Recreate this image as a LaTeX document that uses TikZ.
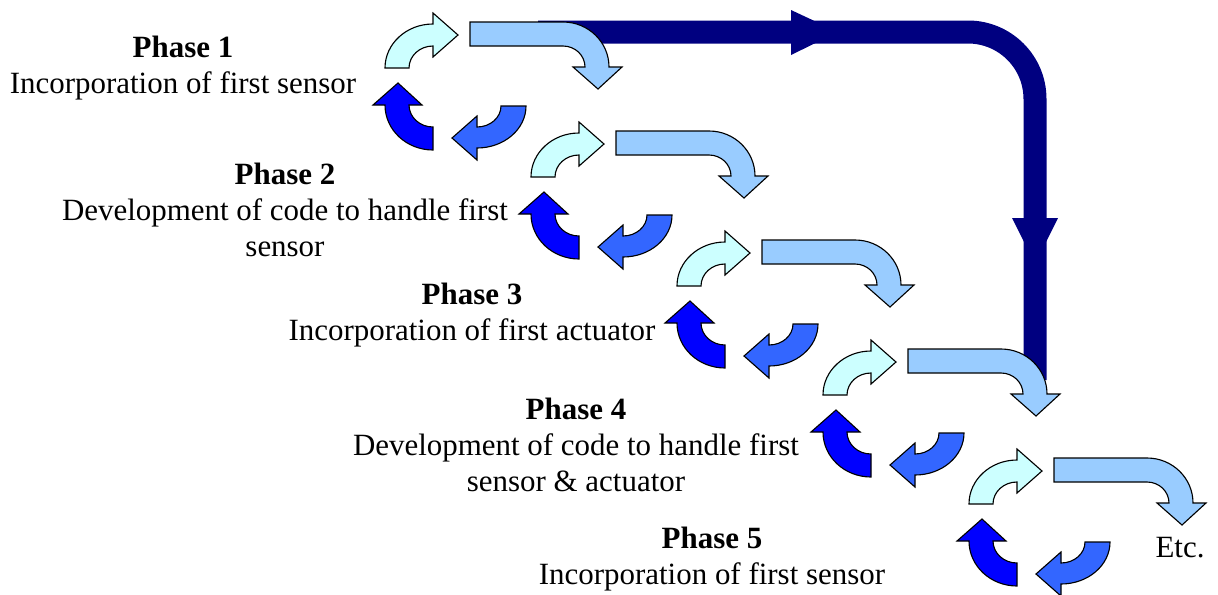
\documentclass[tikz,border=0pt]{standalone}
\usepackage{fontspec}
\setmainfont{Liberation Serif}
\usetikzlibrary{positioning}
\definecolor{palecyan}{HTML}{CCFFFF}
\definecolor{skyblue}{HTML}{99CCFF}
\definecolor{midblue}{HTML}{3366FF}
\definecolor{pureblue}{HTML}{0000FF}
\definecolor{navyblue}{HTML}{000080}
\tikzstyle{rise} = [draw=black, line width=0.8pt, line join=miter, fill=palecyan]
\tikzstyle{sweep} = [draw=black, line width=0.8pt, line join=miter, fill=skyblue]
\tikzstyle{climb} = [draw=black, line width=0.8pt, line join=miter, fill=pureblue]
\tikzstyle{drop} = [draw=black, line width=0.8pt, line join=miter, fill=midblue]
\tikzstyle{backtrack} = [draw=navyblue, line width=0.575cm]
\tikzstyle{phasetext} = [align=center, inner sep=0pt, font=\fontsize{22}{25.6}\selectfont]
% one turn of the spiral, #1 = phase number counted from 0
\newcommand{\phasecycle}[1]{%
\begin{scope}[shift={(146*#1,109*#1)}]
\draw [rise] (385,68) arc[start angle=180, end angle=270, x radius=48, y radius=44] -- (433,13) -- (458,35) -- (433,57) -- (433,46) arc[start angle=270, end angle=180, x radius=24, y radius=22] -- cycle;
\draw [sweep] (470,22) -- (563,22) arc[start angle=270, end angle=360, x radius=46, y radius=45] -- (622,67) -- (598,89) -- (573,67) -- (585,67) arc[start angle=0, end angle=-90, x radius=22, y radius=21] -- (470,46) -- cycle;
\draw [climb] (433,150) arc[start angle=90, end angle=180, x radius=48, y radius=45] -- (373,105) -- (398,83) -- (422,105) -- (409,105) arc[start angle=180, end angle=90, x radius=24, y radius=22] -- cycle;
\draw [drop] (526,106) arc[start angle=0, end angle=90, x radius=49, y radius=42] -- (477,160) -- (452,138) -- (477,116) -- (477,127) arc[start angle=90, end angle=0, x radius=24, y radius=21] -- cycle;
\end{scope}}

\begin{document}
\begin{tikzpicture}[x=0.025cm, y=-0.025cm]
\useasboundingbox (0,0) rectangle (1218,594);

% way back from phase 1 to phase 4
\draw [backtrack] (538,32) -- (968,32) arc[start angle=270, end angle=360, radius=67] -- (1035,380);
\fill [navyblue] (791,10) -- (838,32) -- (791,55) -- cycle;
\fill [navyblue] (1012,218) -- (1035,264) -- (1058,218) -- cycle;

\phasecycle{0}
\phasecycle{1}
\phasecycle{2}
\phasecycle{3}
\phasecycle{4}

\node (phase1) [phasetext] at (183,68) {\textbf{Phase 1}\\Incorporation of first sensor};
\node (phase2) [phasetext] at (285,210) {\textbf{Phase 2}\\Development of code to handle first\\sensor};
\node (phase3) [phasetext] at (472,315) {\textbf{Phase 3}\\Incorporation of first actuator};
\node (phase4) [phasetext] at (576,445) {\textbf{Phase 4}\\Development of code to handle first\\sensor \& actuator};
\node (phase5) [phasetext] at (712,559) {\textbf{Phase 5}\\Incorporation of first sensor};
\node (etc) [phasetext] at (1180,548) {Etc.};

\end{tikzpicture}
\end{document}
